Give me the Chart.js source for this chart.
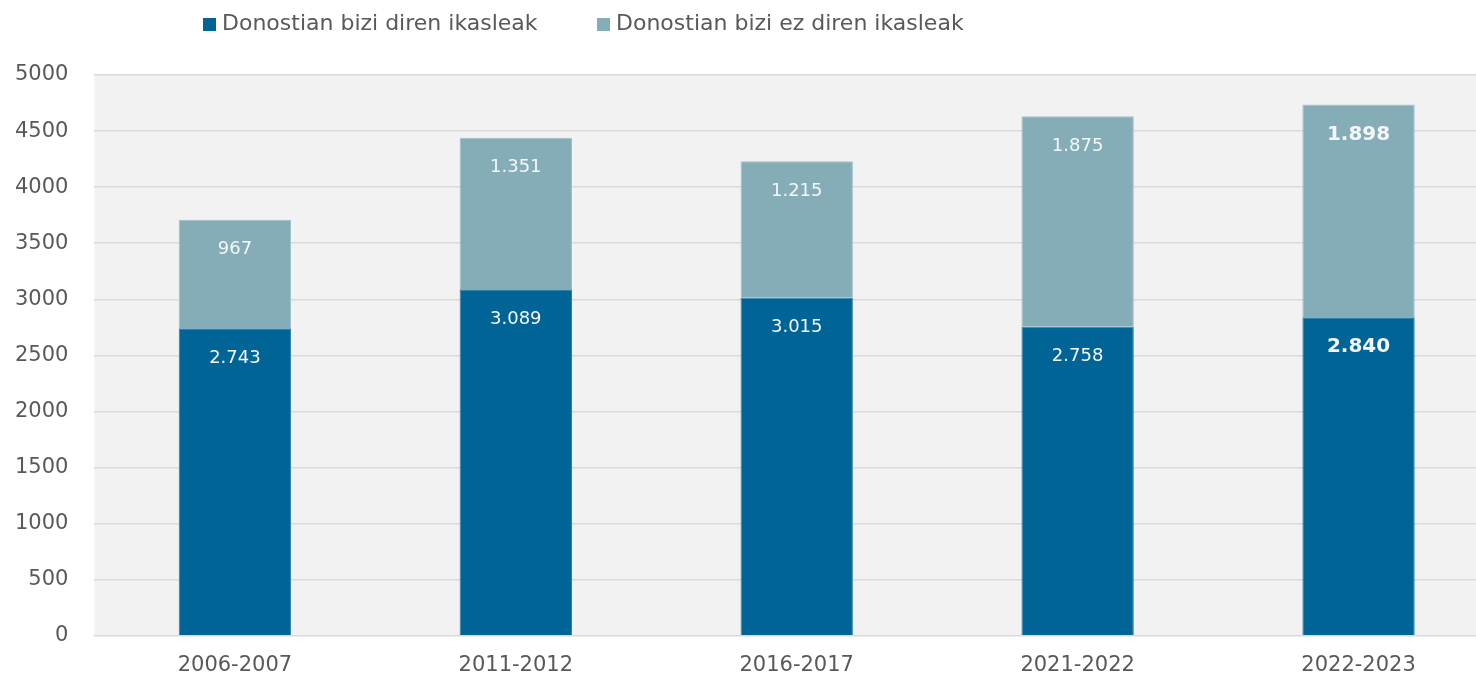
<!DOCTYPE html>
<html>
<head>
<meta charset="utf-8">
<script src="https://cdn.jsdelivr.net/npm/chart.js@4.4.1/dist/chart.umd.min.js"></script>
<style>
html,body{margin:0;padding:0;background:#fff;overflow:hidden;width:1476px;height:678px;position:relative;}
#wrap{position:absolute;left:-11px;top:0;width:1511px;height:695px;}
</style>
</head>
<body>
<div id="wrap"><canvas id="c" width="1511" height="695"></canvas></div>
<script>
const categories = ['2006-2007', '2011-2012', '2016-2017', '2021-2022', '2022-2023'];
const seriesNames = ['Donostian bizi diren ikasleak', 'Donostian bizi ez diren ikasleak'];
const residents = [2743, 3089, 3015, 2758, 2840];
const nonResidents = [967, 1351, 1215, 1875, 1898];
const yTicks = [0, 500, 1000, 1500, 2000, 2500, 3000, 3500, 4000, 4500, 5000];
const colors = ['#006496', '#85adb7'];
const borderColors = ['#2f7fa9', '#a0c0c8'];

const FONT = "'DejaVu Sans', 'Liberation Sans', sans-serif";
const fmt = v => v.toLocaleString('de-DE');

const bgPlugin = {
  id: 'plotBg',
  beforeDraw(chart) {
    const {ctx, chartArea: a} = chart;
    ctx.save();
    ctx.fillStyle = '#f2f2f2';
    ctx.fillRect(a.left, a.top, a.right - a.left, a.bottom - a.top);
    ctx.restore();
  }
};

const labelPlugin = {
  id: 'segLabels',
  afterDatasetsDraw(chart) {
    const ctx = chart.ctx;
    ctx.save();
    ctx.textAlign = 'center';
    ctx.textBaseline = 'middle';
    chart.data.datasets.forEach((ds, di) => {
      const meta = chart.getDatasetMeta(di);
      meta.data.forEach((el, i) => {
        const last = i === categories.length - 1;
        ctx.font = (last ? 'bold 20px ' : '18px ') + FONT;
        ctx.fillStyle = '#f4f6f8';
        ctx.fillText(fmt(ds.data[i]), el.x, el.y + 30);
      });
    });
    ctx.restore();
  }
};

const legendPlugin = {
  id: 'customLegend',
  afterDraw(chart) {
    const ctx = chart.ctx;
    ctx.save();
    ctx.font = '22px ' + FONT;
    ctx.textBaseline = 'middle';
    const starts = [214, 608];
    seriesNames.forEach((n, i) => {
      ctx.fillStyle = colors[i];
      ctx.fillRect(starts[i], 18, 13, 13);
      ctx.fillStyle = '#595959';
      ctx.fillText(n, starts[i] + 19, 24);
    });
    ctx.restore();
  }
};

new Chart(document.getElementById('c'), {
  type: 'bar',
  data: {
    labels: categories,
    datasets: [
      { label: seriesNames[0], data: residents, backgroundColor: colors[0], borderColor: borderColors[0], borderWidth: 1, categoryPercentage: 1, barPercentage: 0.4 },
      { label: seriesNames[1], data: nonResidents, backgroundColor: colors[1], borderColor: borderColors[1], borderWidth: 1, categoryPercentage: 1, barPercentage: 0.4 }
    ]
  },
  options: {
    responsive: false,
    animation: false,
    layout: { padding: { top: 75, left: 0, right: 1, bottom: 0 } },
    plugins: { legend: { display: false }, tooltip: { enabled: false } },
    scales: {
      x: {
        stacked: true,
        grid: { display: false, drawTicks: false },
        border: { display: false },
        ticks: { color: '#595959', font: { family: FONT, size: 21 }, padding: 17 }
      },
      y: {
        stacked: true,
        min: 0, max: 5000,
        afterBuildTicks: (axis) => { axis.ticks = yTicks.map(v => ({ value: v })); },
        grid: { color: '#d9d9d9', lineWidth: 1.5, drawTicks: false },
        border: { display: false },
        ticks: { color: '#595959', font: { family: FONT, size: 21 }, padding: 26, callback: v => String(v) }
      }
    }
  },
  plugins: [bgPlugin, labelPlugin, legendPlugin]
});
</script>
</body>
</html>
